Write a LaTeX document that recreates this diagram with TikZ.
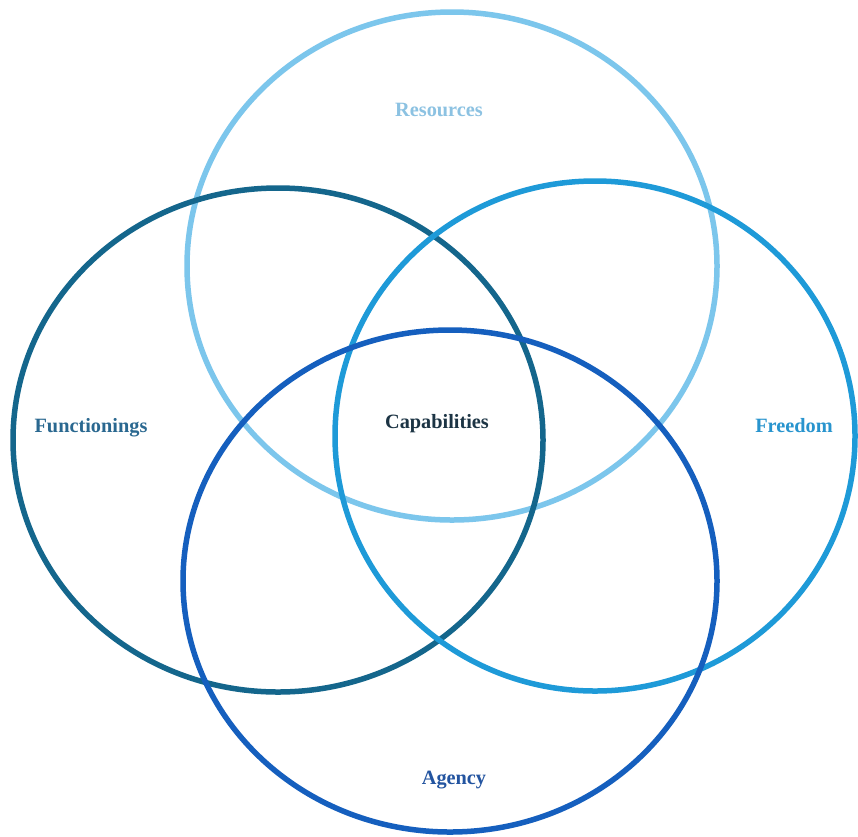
\documentclass[tikz,border=0pt]{standalone}
\usepackage{fontspec}
\setmainfont{Liberation Serif}
\definecolor{cRes}{HTML}{7CC6EC}
\definecolor{cFun}{HTML}{14668C}
\definecolor{cFree}{HTML}{1E9AD8}
\definecolor{cAg}{HTML}{155FBE}
\definecolor{tRes}{HTML}{8CC2E2}
\definecolor{tFun}{HTML}{2A6890}
\definecolor{tCap}{HTML}{1C3444}
\definecolor{tFree}{HTML}{2894CE}
\definecolor{tAg}{HTML}{2354A0}
\begin{document}
\begin{tikzpicture}[x=1pt,y=-1pt,
  ring/.style={line width=5.5pt},
  lbl/.style={font=\fontsize{20.3}{23}\selectfont\bfseries, inner sep=0pt}]
\useasboundingbox (0,0) rectangle (858,836);
\fill[white] (0,0) rectangle (858,836);
\draw[ring, cRes] (452,266) ellipse [x radius=265, y radius=254];
\draw[ring, cFun] (278,440) ellipse [x radius=265, y radius=252];
\draw[ring, cFree] (595,436) ellipse [x radius=260, y radius=255];
\draw[ring, cAg] (450,581) ellipse [x radius=267, y radius=251];
\node[lbl, text=tRes] (res) at (439,110) {Resources};
\node[lbl, text=tFun] (fun) at (91,428) {Functionings};
\node[lbl, text=tCap] (cap) at (437,424) {Capabilities};
\node[lbl, text=tFree] (free) at (794,426) {Freedom};
\node[lbl, text=tAg] (ag) at (454,780) {Agency};
\end{tikzpicture}
\end{document}
